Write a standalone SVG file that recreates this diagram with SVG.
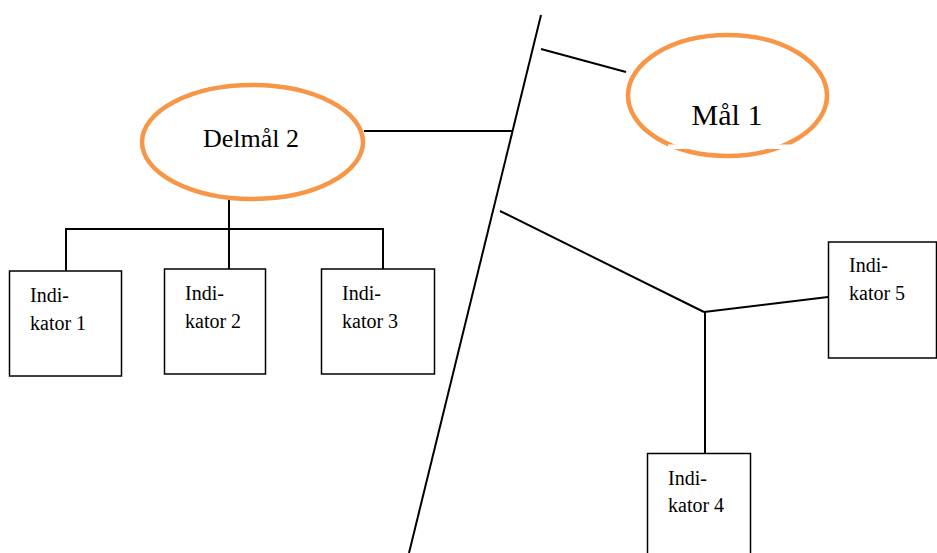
<svg xmlns="http://www.w3.org/2000/svg" width="937" height="553" viewBox="0 0 937 553">
  <style>
    .goal { fill: #ffffff; stroke: #f79646; stroke-width: 4.5; }
    .box { fill: #ffffff; stroke: #000000; stroke-width: 1.5; }
    .link { fill: none; stroke: #000000; stroke-width: 2; }
    text { font-family: "Liberation Serif", "Times New Roman", serif; fill: #000000; }
    .lbl { font-size: 20px; }
  </style>
  <rect width="937" height="553" fill="#ffffff"/>

  <g id="connectors">
    <line class="link" x1="541" y1="15" x2="409" y2="553"/>
    <line class="link" x1="364" y1="131" x2="513" y2="131"/>
    <line class="link" x1="541" y1="49" x2="626" y2="72"/>
    <line class="link" x1="500" y1="211" x2="704" y2="312"/>
    <line class="link" x1="704" y1="312" x2="828" y2="297"/>
    <line class="link" x1="705" y1="312" x2="705" y2="454"/>
    <line class="link" x1="229" y1="200" x2="229" y2="270"/>
    <polyline class="link" points="66,271 66,229 383,229 383,269"/>
  </g>

  <g id="delmal2">
    <ellipse class="goal" cx="252.5" cy="142" rx="110.5" ry="57"/>
    <text x="251" y="147" font-size="26" text-anchor="middle">Delmål 2</text>
  </g>

  <g id="mal1">
    <ellipse class="goal" cx="727.5" cy="95.5" rx="99.5" ry="60.5"/>
    <rect x="668" y="144.5" width="124" height="4.5" fill="#ffffff"/>
    <text x="727" y="125" font-size="30" text-anchor="middle">Mål 1</text>
  </g>

  <g id="indikator1">
    <rect class="box" x="9.5" y="271" width="112" height="105"/>
    <text class="lbl" x="30" y="302">Indi-</text>
    <text class="lbl" x="30" y="330">kator 1</text>
  </g>

  <g id="indikator2">
    <rect class="box" x="164.5" y="269" width="101" height="105"/>
    <text class="lbl" x="185" y="300">Indi-</text>
    <text class="lbl" x="185" y="328">kator 2</text>
  </g>

  <g id="indikator3">
    <rect class="box" x="321.5" y="269" width="113" height="105"/>
    <text class="lbl" x="342" y="300">Indi-</text>
    <text class="lbl" x="342" y="328">kator 3</text>
  </g>

  <g id="indikator4">
    <rect class="box" x="647.5" y="453.5" width="103" height="110"/>
    <text class="lbl" x="668" y="485">Indi-</text>
    <text class="lbl" x="668" y="512">kator 4</text>
  </g>

  <g id="indikator5">
    <rect class="box" x="828.5" y="242" width="108" height="116"/>
    <text class="lbl" x="849" y="272">Indi-</text>
    <text class="lbl" x="849" y="300">kator 5</text>
  </g>
</svg>
